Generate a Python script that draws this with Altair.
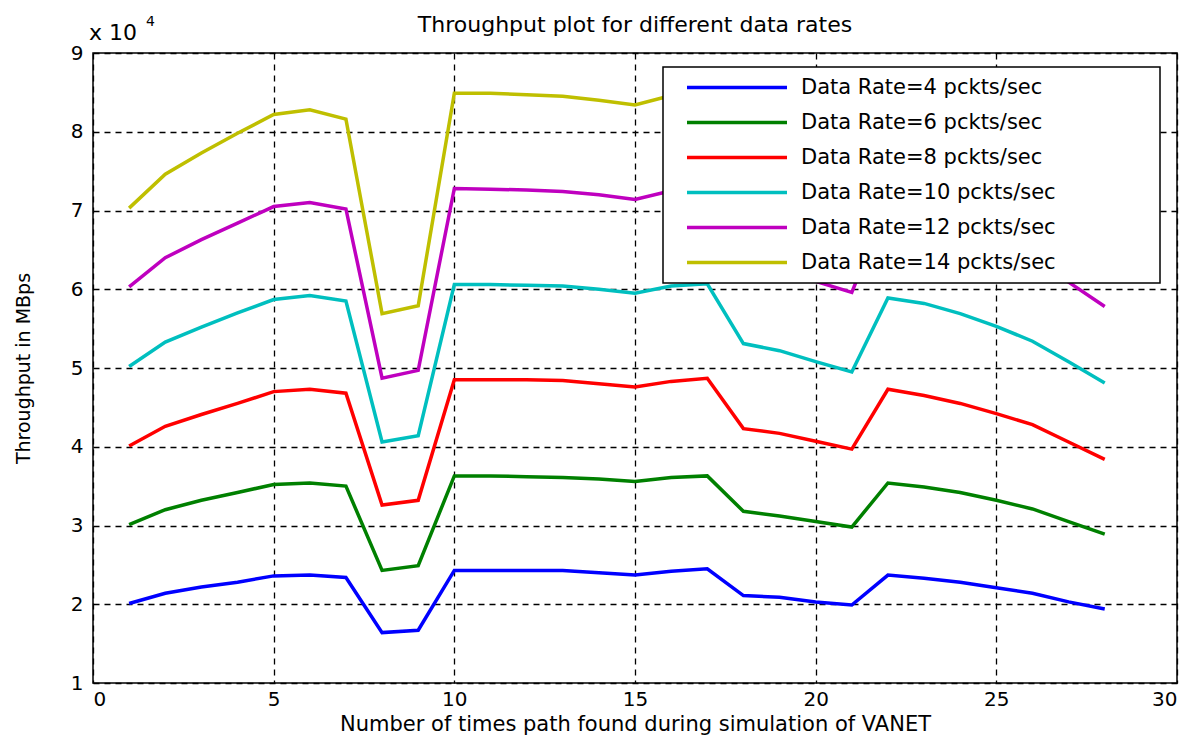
import altair as alt
import pandas as pd

x_vals = list(range(1, 29))

series_labels = [
    "Data Rate=4 pckts/sec",
    "Data Rate=6 pckts/sec",
    "Data Rate=8 pckts/sec",
    "Data Rate=10 pckts/sec",
    "Data Rate=12 pckts/sec",
    "Data Rate=14 pckts/sec",
]
series_colors = ["#0000FF", "#008000", "#FF0000", "#00BFBF", "#BF00BF", "#BFBF00"]

rate4 = [20100, 21400, 22200, 22800, 23600, 23700, 23400, 16400, 16700, 24300,
         24300, 24300, 24300, 24000, 23700, 24200, 24500, 21100, 20900, 20300,
         19900, 23700, 23300, 22800, 22100, 21400, 20300, 19400]
rate6 = [30100, 32000, 33200, 34200, 35200, 35400, 35000, 24300, 24900, 36300,
         36300, 36200, 36100, 35900, 35600, 36100, 36300, 31800, 31200, 30500,
         29800, 35400, 34900, 34200, 33200, 32100, 30500, 28900]
rate8 = [40100, 42600, 44100, 45500, 47000, 47300, 46800, 32600, 33200, 48500,
         48500, 48500, 48400, 48000, 47600, 48300, 48700, 42300, 41700, 40700,
         39700, 47300, 46500, 45500, 44200, 42800, 40600, 38400]
rate10 = [50200, 53300, 55200, 57000, 58700, 59200, 58500, 40600, 41400, 60600,
          60600, 60500, 60400, 60000, 59500, 60400, 60700, 53100, 52200, 50800,
          49500, 58900, 58200, 56900, 55300, 53400, 50800, 48100]
rate12 = [60300, 64000, 66300, 68400, 70500, 71000, 70200, 48700, 49700, 72800,
          72700, 72600, 72400, 72000, 71400, 72500, 72900, 63600, 62700, 61000,
          59600, 70900, 69800, 68300, 66300, 64100, 60900, 57800]
rate14 = [70300, 74600, 77300, 79800, 82200, 82800, 81600, 56900, 57900, 84900,
          84900, 84700, 84500, 84000, 83400, 84600, 85100, 74200, 73100, 71200,
          69400, 82700, 81500, 79700, 77400, 74800, 71100, 67300]

all_series = [rate4, rate6, rate8, rate10, rate12, rate14]

x_ticks = [0, 5, 10, 15, 20, 25, 30]
y_ticks = [10000, 20000, 30000, 40000, 50000, 60000, 70000, 80000, 90000]

rows = []
for lab, vals in zip(series_labels, all_series):
    for xv, yv in zip(x_vals, vals):
        rows.append({"x": xv, "throughput": yv, "series": lab})
df = pd.DataFrame(rows)

FONT = "DejaVu Sans"
# non-breaking spaces followed by a zero-width space so the padding is kept
LABEL_PAD = "\u00a0" * 14 + "\u200b"

lines = alt.Chart(df).mark_line(strokeWidth=3.5, clip=True).encode(
    x=alt.X("x:Q",
            scale=alt.Scale(domain=[0, 30], nice=False),
            axis=alt.Axis(values=x_ticks, grid=True, gridDash=[6, 5], gridColor="black",
                          gridOpacity=1, gridWidth=1.3, ticks=False, domain=False,
                          labelFont=FONT, labelFontSize=20, labelColor="black",
                          labelPadding=6,
                          title="Number of times path found during simulation of VANET",
                          titleFont=FONT, titleFontSize=21, titleFontWeight="normal",
                          titleColor="black", titlePadding=4)),
    y=alt.Y("throughput:Q",
            scale=alt.Scale(domain=[10000, 90000], nice=False),
            axis=alt.Axis(values=y_ticks, grid=True, gridDash=[6, 5], gridColor="black",
                          gridOpacity=1, gridWidth=1.3, ticks=False, domain=False,
                          labelExpr="datum.value / 10000",
                          labelFont=FONT, labelFontSize=20, labelColor="black",
                          labelPadding=10,
                          title="Throughput in MBps",
                          titleFont=FONT, titleFontSize=19, titleFontWeight="normal",
                          titleColor="black", titlePadding=37)),
    color=alt.Color("series:N",
                    scale=alt.Scale(domain=series_labels, range=series_colors),
                    sort=series_labels,
                    legend=alt.Legend(orient="none", legendX=570, legendY=14, zindex=1,
                                      title=None, fillColor="white", strokeColor="black",
                                      padding=10, symbolType="stroke", symbolSize=10000,
                                      symbolStrokeWidth=3.5, clipHeight=21, rowPadding=13,
                                      symbolOffset=12, labelOffset=12,
                                      labelFont=FONT, labelFontSize=21, labelColor="black",
                                      labelLimit=700,
                                      labelExpr="datum.label + '" + LABEL_PAD + "'")),
)

mult = alt.Chart(pd.DataFrame({"t": ["x 10"]})).mark_text(
    font=FONT, fontSize=22, align="left", baseline="alphabetic", color="black"
).encode(x=alt.value(-4), y=alt.value(-13), text="t:N")

expo = alt.Chart(pd.DataFrame({"t": ["4"]})).mark_text(
    font=FONT, fontSize=14, align="left", baseline="alphabetic", color="black"
).encode(x=alt.value(53), y=alt.value(-27), text="t:N")

chart = alt.layer(lines, mult, expo).properties(
    width=1084, height=630,
    title=alt.TitleParams("Throughput plot for different data rates", font=FONT,
                          fontSize=22, fontWeight="normal", color="black",
                          offset=0, dy=22, frame="group"),
    autosize=alt.AutoSizeParams(type="none"),
    padding={"left": 85, "top": 45, "right": 18, "bottom": 56},
).configure_view(stroke="black", strokeWidth=1.5).configure_legend(strokeWidth=1.5)

chart.save("out.html", embed_options={"renderer": "svg", "actions": False})
